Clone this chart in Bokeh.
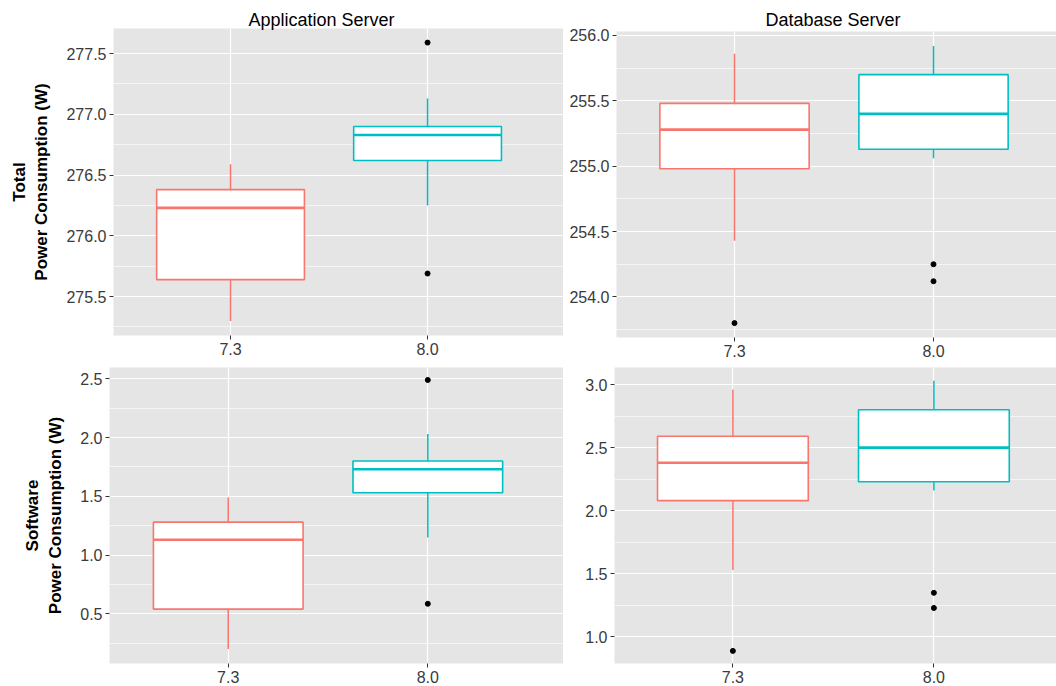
from bokeh.plotting import figure
from bokeh.layouts import column, row
from bokeh.models import Range1d, FixedTicker, SingleIntervalTicker, PrintfTickFormatter
from bokeh.embed import file_html
from bokeh.resources import INLINE

# ---------------- data ----------------
versions = ["7.3", "8.0"]
version_colors = ["#F8766D", "#00BFC4"]

# Application server, total power (W)
app_total_low = [275.30, 276.25]
app_total_q1 = [275.64, 276.62]
app_total_med = [276.23, 276.83]
app_total_q3 = [276.38, 276.90]
app_total_high = [276.59, 277.13]
app_total_out_ver = ["8.0", "8.0"]
app_total_out_val = [277.59, 275.69]

# Database server, total power (W)
db_total_low = [254.43, 255.06]
db_total_q1 = [254.98, 255.13]
db_total_med = [255.28, 255.40]
db_total_q3 = [255.48, 255.70]
db_total_high = [255.86, 255.92]
db_total_out_ver = ["7.3", "8.0", "8.0"]
db_total_out_val = [253.80, 254.25, 254.12]

# Application server, software power (W)
app_sw_low = [0.20, 1.15]
app_sw_q1 = [0.54, 1.53]
app_sw_med = [1.13, 1.73]
app_sw_q3 = [1.28, 1.80]
app_sw_high = [1.49, 2.03]
app_sw_out_ver = ["8.0", "8.0"]
app_sw_out_val = [2.49, 0.585]

# Database server, software power (W)
db_sw_low = [1.53, 2.16]
db_sw_q1 = [2.08, 2.23]
db_sw_med = [2.38, 2.50]
db_sw_q3 = [2.59, 2.80]
db_sw_high = [2.96, 3.03]
db_sw_out_ver = ["7.3", "8.0", "8.0"]
db_sw_out_val = [0.89, 1.35, 1.23]

FONT = "Liberation Sans"
BOX_W = 0.75


def panel(low, q1, med, q3, high, out_ver, out_val, xr, yr, width, height,
          bl, bt, bb, title=None, title_offset=0, title_standoff=0, ylabel=None):
    p = figure(width=width, height=height, output_backend="svg", toolbar_location=None,
               x_range=Range1d(*xr), y_range=Range1d(*yr),
               min_border_left=bl, min_border_right=0, min_border_top=bt, min_border_bottom=bb)
    p.background_fill_color = "#E5E5E5"
    p.border_fill_color = "white"
    p.outline_line_color = None

    pos = [i + 1 for i in range(len(versions))]
    p.xaxis.ticker = FixedTicker(ticks=pos)
    p.xaxis.major_label_overrides = {pp: v for pp, v in zip(pos, versions)}
    p.yaxis.ticker = SingleIntervalTicker(interval=0.5, num_minor_ticks=2)
    p.yaxis.formatter = PrintfTickFormatter(format="%.1f")

    for ax in (p.xaxis[0], p.yaxis[0]):
        ax.axis_line_color = None
        ax.major_tick_line_color = "#333333"
        ax.major_tick_in = 0
        ax.major_tick_out = 4
        ax.minor_tick_line_color = None
        ax.major_label_text_font = FONT
        ax.major_label_text_font_size = "16px"
        ax.major_label_text_color = "#3a3a3a"
        ax.major_label_standoff = 3

    p.xgrid.grid_line_color = "white"
    p.xgrid.grid_line_width = 1.2
    p.ygrid.grid_line_color = "white"
    p.ygrid.grid_line_width = 1.2
    p.ygrid.minor_grid_line_color = "white"
    p.ygrid.minor_grid_line_width = 0.6

    if ylabel:
        p.yaxis.axis_label = ylabel
        p.yaxis.axis_label_text_font = FONT
        p.yaxis.axis_label_text_font_size = "17px"
        p.yaxis.axis_label_text_font_style = "bold"
        p.yaxis.axis_label_text_color = "black"
        p.yaxis.axis_label_standoff = 12

    if title:
        p.title.text = title
        p.title.text_font = FONT
        p.title.text_font_size = "18px"
        p.title.text_font_style = "normal"
        p.title.text_color = "black"
        p.title.align = "left"
        p.title.offset = title_offset
        p.title.standoff = title_standoff

    # whiskers
    p.segment(x0=pos, x1=pos, y0=q3, y1=high, line_color=version_colors, line_width=1.5)
    p.segment(x0=pos, x1=pos, y0=q1, y1=low, line_color=version_colors, line_width=1.5)
    # boxes
    p.vbar(x=pos, width=BOX_W, top=q3, bottom=q1, fill_color="white",
           line_color=version_colors, line_width=1.6)
    # medians
    p.segment(x0=[x - BOX_W / 2 for x in pos], x1=[x + BOX_W / 2 for x in pos],
              y0=med, y1=med, line_color=version_colors, line_width=2.6)
    # outliers
    ox = [versions.index(v) + 1 for v in out_ver]
    p.scatter(x=ox, y=out_val, size=5, color="black")
    return p


p1 = panel(app_total_low, app_total_q1, app_total_med, app_total_q3, app_total_high,
           app_total_out_ver, app_total_out_val,
           (0.406, 2.69), (275.18, 277.706), 563, 362, 113, 28, 27,
           title="Application Server", title_offset=135, title_standoff=-2,
           ylabel="Total\nPower Consumption (W)")
p2 = panel(db_total_low, db_total_q1, db_total_med, db_total_q3, db_total_high,
           db_total_out_ver, db_total_out_val,
           (0.407, 2.618), (253.69, 256.03), 493, 362, 53, 31, 25,
           title="Database Server", title_offset=149, title_standoff=3)
p3 = panel(app_sw_low, app_sw_q1, app_sw_med, app_sw_q3, app_sw_high,
           app_sw_out_ver, app_sw_out_val,
           (0.405, 2.68), (0.077, 2.596), 563, 324, 109, 5, 23,
           ylabel="Software\nPower Consumption (W)")
p4 = panel(db_sw_low, db_sw_q1, db_sw_med, db_sw_q3, db_sw_high,
           db_sw_out_ver, db_sw_out_val,
           (0.411, 2.610), (0.79, 3.135), 493, 324, 51, 5, 23)

# each panel wrapped on its own so that its frame keeps its own borders
layout = column(row(column(p1), column(p2)), row(column(p3), column(p4)))
open("out.html", "w").write(file_html(layout, INLINE))
